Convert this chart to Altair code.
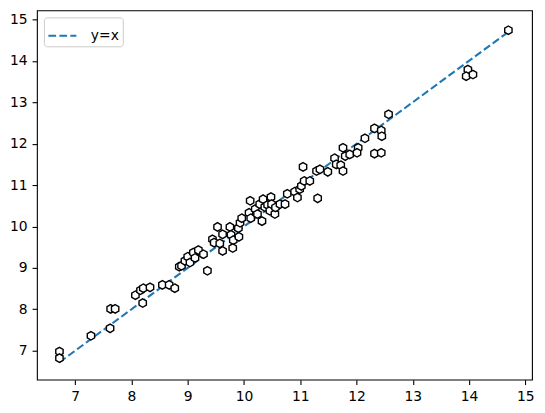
import altair as alt
import pandas as pd

xs = [6.72, 6.72, 7.28, 7.62, 7.63, 7.71, 8.07, 8.20, 8.16, 8.21, 8.33, 8.55, 8.67, 8.77,
      8.85, 8.89, 8.95, 9.00, 9.04, 9.10, 9.13, 9.19, 9.28, 9.35, 9.44, 9.47, 9.53, 9.57,
      9.62, 9.62, 9.75, 9.77, 9.81, 9.80, 9.90, 9.91, 9.93, 9.96, 10.09, 10.11, 10.12,
      10.20, 10.24, 10.28, 10.32, 10.34, 10.37, 10.42, 10.46, 10.48, 10.49, 10.55, 10.56,
      10.64, 10.73, 10.77, 10.90, 10.95, 10.99, 11.02, 11.07, 11.05, 11.17, 11.29, 11.31,
      11.35, 11.49, 11.61, 11.64, 11.72, 11.76, 11.76, 11.80, 11.88, 12.03, 12.01, 12.15,
      12.32, 12.44, 12.45, 12.32, 12.44, 12.57, 13.98, 13.95, 14.07, 14.70]
ys = [6.98, 6.82, 7.36, 7.54, 8.01, 8.01, 8.34, 8.15, 8.46, 8.51, 8.53, 8.59, 8.59, 8.51,
      9.03, 9.05, 9.17, 9.27, 9.13, 9.37, 9.24, 9.43, 9.33, 8.93, 9.69, 9.61, 9.99, 9.59,
      9.81, 9.41, 9.99, 9.80, 9.67, 9.48, 9.96, 9.75, 10.09, 10.20, 10.33, 10.62, 10.20,
      10.42, 10.30, 10.54, 10.13, 10.66, 10.47, 10.52, 10.38, 10.71, 10.54, 10.30, 10.46,
      10.54, 10.54, 10.79, 10.84, 10.70, 10.90, 10.98, 11.10, 11.44, 11.10, 11.34, 10.68,
      11.38, 11.32, 11.65, 11.50, 11.48, 11.90, 11.34, 11.70, 11.74, 11.90, 11.78, 12.13,
      12.37, 12.32, 12.18, 11.76, 11.78, 12.71, 13.79, 13.63, 13.67, 14.74]
tick_values = [7, 8, 9, 10, 11, 12, 13, 14, 15]
line_label = "y=x"

pts = pd.DataFrame({"x": xs, "y": ys})
line_df = pd.DataFrame({"v": [min(xs), max(xs)], "series": [line_label, line_label]})

xscale = alt.Scale(domain=[6.32, 15.12], nice=False, zero=False)
yscale = alt.Scale(domain=[6.30, 15.22], nice=False, zero=False)

axis_common = dict(
    values=tick_values, format="d", grid=False, title=None, tickSize=4.9, tickWidth=1.1,
    tickColor="black", domain=False, labelFontSize=13.9, labelFont="DejaVu Sans",
    labelColor="black", labelPadding=4.9, labelFlush=False, labelOverlap=False,
)

line = alt.Chart(line_df).mark_line(strokeDash=[7.7, 3.3], strokeWidth=2.08).encode(
    x=alt.X("v:Q", scale=xscale, axis=alt.Axis(**axis_common)),
    y=alt.Y("v:Q", scale=yscale, axis=alt.Axis(**axis_common)),
    color=alt.Color(
        "series:N",
        scale=alt.Scale(range=["#1f77b4"]),
        legend=alt.Legend(
            title=None, orient="top-left", offset=7, symbolType="stroke",
            symbolDash=[7.7, 3.3], symbolStrokeWidth=2.08, symbolSize=784,
            labelFontSize=13.9, labelFont="DejaVu Sans", labelColor="black",
            strokeColor="#cccccc", fillColor="white", cornerRadius=3,
            padding=3, labelOffset=13,
        ),
    ),
)

hexagon = "M0,-1L0.866,-0.5L0.866,0.5L0,1L-0.866,0.5L-0.866,-0.5Z"
points = alt.Chart(pts).mark_point(
    shape=hexagon, size=72, filled=True, fill="white", stroke="black",
    strokeWidth=1.4, opacity=1,
).encode(
    x=alt.X("x:Q", scale=xscale),
    y=alt.Y("y:Q", scale=yscale),
)

chart = alt.layer(line, points).properties(
    width=496, height=370,
    autosize=alt.AutoSizeParams(type="none"),
    padding={"left": 29, "top": 2, "right": 5, "bottom": 25},
).configure(
    background="white",
    view=alt.ViewConfig(stroke="black", strokeWidth=1.1),
)

chart.save("out.html", embed_options={"renderer": "svg", "actions": False})
